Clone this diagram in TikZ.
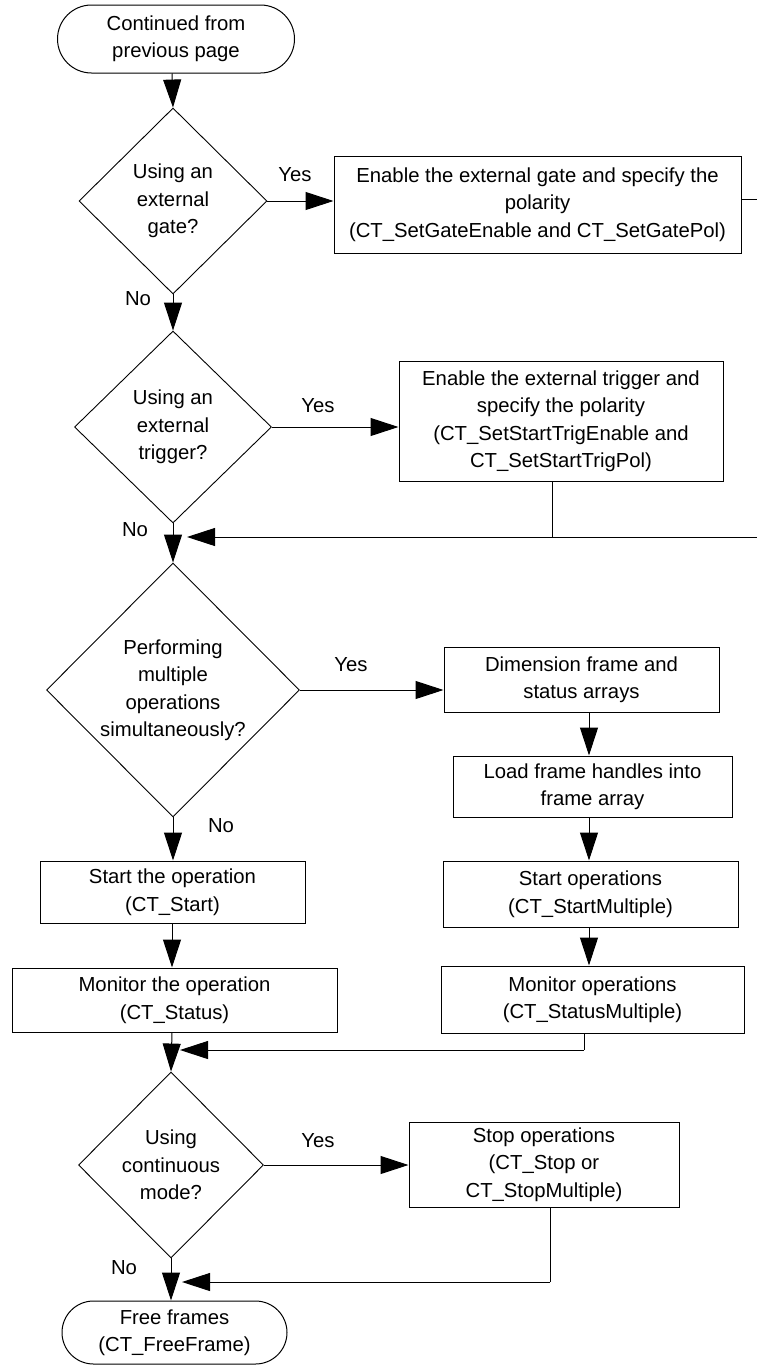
\documentclass[tikz,border=0pt]{standalone}
\usepackage{fontspec}
\setmainfont{Liberation Sans}
\usetikzlibrary{shapes.geometric,shapes.misc,arrows.meta}
\begin{document}
\begin{tikzpicture}[x=1pt,y=-1pt,
  every node/.style={font=\fontsize{20.3}{27.5}\selectfont, align=center, text=black},
  procbox/.style={draw, line width=1pt, inner sep=0pt},
  terminal/.style={draw, line width=1pt, rounded rectangle, inner sep=0pt},
  decision/.style={draw, line width=0.9pt, diamond, inner sep=0pt},
  flow/.style={line width=1pt, -{Triangle[length=28pt,width=18pt]}},
  plain/.style={line width=1pt},
  answer/.style={inner sep=0pt}
]
\useasboundingbox[fill=white] (0,0) rectangle (757,1365);

% ---- nodes ----
\node[terminal, minimum width=237pt, minimum height=68pt] (start) at (176,39)
  {Continued from\\previous page};

\node[decision, minimum width=188pt, minimum height=186pt,
  label={center:{Using an\\external\\gate?}}] (d1) at (173,201) {};
\node[procbox, minimum width=407pt, minimum height=97pt] (b1) at (537.5,204.5)
  {Enable the external gate and specify the\\polarity\\(CT\_SetGateEnable and CT\_SetGatePol)};

\node[decision, minimum width=197pt, minimum height=192pt,
  label={center:{Using an\\external\\trigger?}}] (d2) at (173,427) {};
\node[procbox, minimum width=324pt, minimum height=120pt] (b2) at (561,421)
  {Enable the external trigger and\\specify the polarity\\(CT\_SetStartTrigEnable and\\CT\_SetStartTrigPol)};

\node[decision, minimum width=253pt, minimum height=254pt,
  label={center:{Performing\\multiple\\operations\\simultaneously?}}] (d3) at (173,690) {};
\node[procbox, minimum width=275pt, minimum height=65pt] (b3) at (581.5,679.5)
  {Dimension frame and\\status arrays};
\node[procbox, minimum width=279pt, minimum height=61pt] (b4) at (592.5,786.5)
  {Load frame handles into\\frame array};
\node[procbox, minimum width=295pt, minimum height=66pt] (b5) at (590.5,894)
  {Start operations\\(CT\_StartMultiple)};
\node[procbox, minimum width=303pt, minimum height=67pt] (b6) at (592.5,999.5)
  {Monitor operations\\(CT\_StatusMultiple)};

\node[procbox, minimum width=265pt, minimum height=62pt] (s1) at (172.5,892)
  {Start the operation\\(CT\_Start)};
\node[procbox, minimum width=325pt, minimum height=64pt] (s2) at (174.5,1000)
  {Monitor the operation\\(CT\_Status)};

\node[decision, minimum width=185pt, minimum height=186pt,
  label={center:{Using\\continuous\\mode?}}] (d4) at (171,1165) {};
\node[procbox, minimum width=270pt, minimum height=85pt] (b7) at (544,1164.5)
  {Stop operations\\(CT\_Stop or\\CT\_StopMultiple)};

\node[terminal, minimum width=225pt, minimum height=63pt] (stop) at (174.5,1332.5)
  {Free frames\\(CT\_FreeFrame)};

% ---- branch labels ----
\node[answer] (y1) at (295,175) {Yes};
\node[answer] (n1) at (138,299) {No};
\node[answer] (y2) at (318,406) {Yes};
\node[answer] (n2) at (135,530) {No};
\node[answer] (y3) at (351,665) {Yes};
\node[answer] (n3) at (221,826) {No};
\node[answer] (y4) at (318,1141) {Yes};
\node[answer] (n4) at (124,1268) {No};

% ---- helper coordinates ----
\coordinate (gout) at (757,199);
\coordinate (gin)  at (757,537);
\coordinate (j2)   at (552,537);
\coordinate (t2)   at (187,537);
\coordinate (colR) at (589,0);
\coordinate (j6)   at (584,1050);
\coordinate (t6)   at (180,1050);
\coordinate (j7)   at (550,1282);
\coordinate (t7)   at (182,1282);
\coordinate (colL) at (172,0);

% ---- main column ----
\draw[flow] (start.south -| colL) -- (d1.north);
\draw[flow] (d1.south) -- (d2.north);
\draw[flow] (d2.south) -- (d3.north);
\draw[flow] (d3.south) -- (s1.north -| d3.south);
\draw[flow] (s1.south -| colL) -- (s2.north -| colL);
\draw[flow] (s2.south -| colL) -- (d4.north);
\draw[flow] (d4.south) -- (stop.north -| d4.south);

% ---- yes branches ----
\draw[flow] (d1.east) -- (d1.east -| b1.west);
\draw[plain] (b1.east |- gout) -- (gout);
\draw[flow] (d2.east) -- (d2.east -| b2.west);
\draw[plain] (b2.south -| j2) -- (j2);
\draw[flow] (gin) -- (t2);
\draw[flow] (d3.east) -- (d3.east -| b3.west);
\draw[flow] (b3.south -| colR) -- (b4.north -| colR);
\draw[flow] (b4.south -| colR) -- (b5.north -| colR);
\draw[flow] (b5.south -| colR) -- (b6.north -| colR);
\draw[plain] (b6.south -| j6) -- (j6);
\draw[flow] (j6) -- (t6);
\draw[flow] (d4.east) -- (d4.east -| b7.west);
\draw[plain] (b7.south -| j7) -- (j7);
\draw[flow] (j7) -- (t7);
\end{tikzpicture}
\end{document}
